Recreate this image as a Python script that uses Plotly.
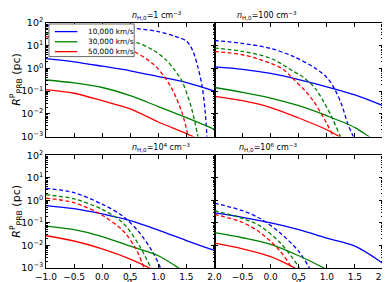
import plotly.graph_objects as go

# ---------------- data (alpha, R in pc) ----------------
speeds = ["10,000 km/s", "30,000 km/s", "50,000 km/s"]
colors = ["#0000ff", "#008000", "#ff0000"]
densities = ["1", "100", "10<sup>4</sup>", "10<sup>6</sup>"]

# n = 1 cm^-3
n1_solid_blue_a = [-1, -0.5, 0, 0.5, 1, 1.5, 1.75, 2]
n1_solid_blue_r = [2.7, 1.95, 1.26, 0.79, 0.44, 0.24, 0.16, 0.10]
n1_solid_green_a = [-1, -0.5, 0, 0.5, 1, 1.5, 2]
n1_solid_green_r = [0.31, 0.23, 0.145, 0.063, 0.021, 0.0068, 0.0021]
n1_solid_red_a = [-1, -0.5, 0, 0.5, 1, 1.5, 1.75]
n1_solid_red_r = [0.117, 0.081, 0.038, 0.0166, 0.0044, 0.00135, 0.0007]
n1_dash_blue_a = [-1, -0.5, 0, 0.5, 1, 1.3, 1.5, 1.6, 1.7, 1.78, 1.83, 1.87]
n1_dash_blue_r = [79, 78, 72, 60, 42, 26, 16, 7.1, 1.26, 0.16, 0.016, 0.00063]
n1_dash_green_a = [-1, -0.5, 0, 0.3, 0.635, 0.9, 1.128, 1.3, 1.42, 1.594, 1.72]
n1_dash_green_r = [36, 33, 26, 21, 13.2, 6.6, 2.5, 0.79, 0.28, 0.0166, 0.00063]
n1_dash_red_a = [-1, -0.5, 0, 0.3, 0.57, 0.8, 0.95, 1.1, 1.245, 1.42, 1.55]
n1_dash_red_r = [25, 22, 16.6, 11.2, 5.6, 2.5, 1.26, 0.45, 0.123, 0.0117, 0.00063]

# n = 100 cm^-3
n2_solid_blue_a = [-1, -0.5, 0, 0.5, 1, 1.5, 2]
n2_solid_blue_r = [1.17, 0.91, 0.60, 0.32, 0.155, 0.068, 0.023]
n2_solid_green_a = [-1, -0.5, 0, 0.5, 1, 1.5, 1.75, 2]
n2_solid_green_r = [0.145, 0.089, 0.05, 0.023, 0.0083, 0.0025, 0.001, 0.0004]
n2_solid_red_a = [-1, -0.5, 0, 0.5, 1, 1.22, 1.4]
n2_solid_red_r = [0.059, 0.038, 0.019, 0.0066, 0.002, 0.001, 0.0005]
n2_dash_blue_a = [-1, -0.5, 0, 0.4, 0.8, 1.0, 1.14, 1.27, 1.38, 1.47, 1.55]
n2_dash_blue_r = [17, 12.6, 7.6, 3.4, 1.0, 0.4, 0.123, 0.023, 0.0032, 0.001, 0.00025]
n2_dash_green_a = [-1, -0.5, 0, 0.4, 0.6, 0.8, 0.95, 1.1, 1.24, 1.35]
n2_dash_green_r = [7.9, 5.6, 2.8, 0.76, 0.38, 0.126, 0.032, 0.0063, 0.001, 0.00025]
n2_dash_red_a = [-1, -0.5, -0.19, 0.2, 0.4, 0.6, 0.75, 0.95, 1.12, 1.25]
n2_dash_red_r = [5.6, 4.0, 2.45, 1.0, 0.35, 0.112, 0.04, 0.0063, 0.001, 0.0003]

# n = 1e4 cm^-3
n3_solid_blue_a = [-1, -0.5, 0, 0.5, 1, 1.5, 2]
n3_solid_blue_r = [0.59, 0.43, 0.25, 0.126, 0.048, 0.0166, 0.006]
n3_solid_green_a = [-1, -0.5, 0, 0.5, 1, 1.36, 1.6]
n3_solid_green_r = [0.072, 0.05, 0.025, 0.0093, 0.0035, 0.001, 0.0004]
n3_solid_red_a = [-1, -0.5, 0, 0.5, 0.84, 1.1]
n3_solid_red_r = [0.027, 0.0158, 0.0071, 0.0025, 0.001, 0.0004]
n3_dash_blue_a = [-1, -0.5, 0, 0.37, 0.66, 0.9, 1.04, 1.15]
n3_dash_blue_r = [3.4, 2.2, 0.68, 0.2, 0.038, 0.0051, 0.001, 0.00025]
n3_dash_green_a = [-1, -0.5, 0, 0.37, 0.66, 0.87, 1.0]
n3_dash_green_r = [1.78, 1.17, 0.4, 0.1, 0.01, 0.001, 0.00025]
n3_dash_red_a = [-1, -0.5, 0, 0.37, 0.6, 0.75, 0.88]
n3_dash_red_r = [1.26, 0.79, 0.22, 0.045, 0.0072, 0.001, 0.00025]

# n = 1e6 cm^-3
n4_solid_blue_a = [-1, -0.5, 0, 0.5, 1, 1.5, 2]
n4_solid_blue_r = [0.28, 0.178, 0.1, 0.05, 0.021, 0.0093, 0.0016]
n4_solid_green_a = [-1, -0.5, 0, 0.5, 0.95, 1.2]
n4_solid_green_r = [0.037, 0.022, 0.0112, 0.0035, 0.001, 0.00045]
n4_solid_red_a = [-1, -0.5, 0, 0.43, 0.7]
n4_solid_red_r = [0.0126, 0.0071, 0.0032, 0.001, 0.0004]
n4_dash_blue_a = [-1, -0.5, -0.19, 0.16, 0.51, 0.69, 0.8]
n4_dash_blue_r = [0.76, 0.35, 0.158, 0.038, 0.0051, 0.001, 0.0003]
n4_dash_green_a = [-1, -0.5, -0.19, 0.16, 0.4, 0.51, 0.62]
n4_dash_green_r = [0.35, 0.158, 0.074, 0.0138, 0.0026, 0.001, 0.0003]
n4_dash_red_a = [-1, -0.5, -0.19, 0.16, 0.38, 0.5]
n4_dash_red_r = [0.24, 0.105, 0.038, 0.006, 0.001, 0.0003]

x_tickvals = [-1.0, -0.5, 0.0, 0.5, 1.0, 1.5, 2.0]
x_ticktext = ["\u22121.0", "\u22120.5", "0.0", "0.5", "1.0", "1.5", "2.0"]
y_tickvals = [1e-3, 1e-2, 1e-1, 1e0, 1e1, 1e2]
y_ticktext = ["10<sup>\u22123</sup>", "10<sup>\u22122</sup>", "10<sup>\u22121</sup>",
              "10<sup>0</sup>", "10<sup>1</sup>", "10<sup>2</sup>"]

panels = [
    [(n1_solid_blue_a, n1_solid_blue_r, n1_dash_blue_a, n1_dash_blue_r),
     (n1_solid_green_a, n1_solid_green_r, n1_dash_green_a, n1_dash_green_r),
     (n1_solid_red_a, n1_solid_red_r, n1_dash_red_a, n1_dash_red_r)],
    [(n2_solid_blue_a, n2_solid_blue_r, n2_dash_blue_a, n2_dash_blue_r),
     (n2_solid_green_a, n2_solid_green_r, n2_dash_green_a, n2_dash_green_r),
     (n2_solid_red_a, n2_solid_red_r, n2_dash_red_a, n2_dash_red_r)],
    [(n3_solid_blue_a, n3_solid_blue_r, n3_dash_blue_a, n3_dash_blue_r),
     (n3_solid_green_a, n3_solid_green_r, n3_dash_green_a, n3_dash_green_r),
     (n3_solid_red_a, n3_solid_red_r, n3_dash_red_a, n3_dash_red_r)],
    [(n4_solid_blue_a, n4_solid_blue_r, n4_dash_blue_a, n4_dash_blue_r),
     (n4_solid_green_a, n4_solid_green_r, n4_dash_green_a, n4_dash_green_r),
     (n4_solid_red_a, n4_solid_red_r, n4_dash_red_a, n4_dash_red_r)],
]

FONT = "DejaVu Sans"
W, H = 390, 282
ML, MR, MT, MB = 38, 8, 13, 21
pw = W - ML - MR
ph = H - MT - MB
x_domains = [[0, 0.5], [0.5, 1.0]]
y_top = [(H - MB - 128) / ph, 1.0]
y_bot = [0.0, (H - MB - 147) / ph]
y_domains = [y_top, y_bot]


def px_x(px):
    return (px - ML) / pw


def px_y(py):
    return (H - MB - py) / ph


fig = go.Figure()
layout = {}
for p in range(4):
    row, col = divmod(p, 2)
    idx = p + 1
    xa = "x" if idx == 1 else f"x{idx}"
    ya = "y" if idx == 1 else f"y{idx}"
    for si, (sa, sr, da, dr) in enumerate(panels[p]):
        fig.add_trace(go.Scatter(
            x=sa, y=sr, mode="lines", xaxis=xa, yaxis=ya,
            line=dict(color=colors[si], width=1.3, shape="spline", smoothing=0.9),
            name=speeds[si], showlegend=False))
        fig.add_trace(go.Scatter(
            x=da, y=dr, mode="lines", xaxis=xa, yaxis=ya,
            line=dict(color=colors[si], width=1.3, dash="4px,2.5px", shape="spline", smoothing=0.9),
            showlegend=False))
    xkey = "xaxis" if idx == 1 else f"xaxis{idx}"
    ykey = "yaxis" if idx == 1 else f"yaxis{idx}"
    if row == 1 and col == 1:
        tv, tt = x_tickvals[1:], x_ticktext[1:]
    else:
        tv, tt = x_tickvals, x_ticktext
    layout[xkey] = dict(
        domain=x_domains[col], range=[-1, 2], anchor=ya,
        tickvals=tv, ticktext=tt, showticklabels=(row == 1),
        ticks="inside", ticklen=4, tickwidth=0.8, tickcolor="black",
        showline=True, linecolor="black", linewidth=0.8, mirror="ticks",
        showgrid=False, zeroline=False,
        tickfont=dict(family=FONT, size=9, color="black"))
    layout[ykey] = dict(
        domain=y_domains[row], type="log", range=[-3, 2], anchor=xa,
        tickvals=y_tickvals, ticktext=y_ticktext, showticklabels=(col == 0),
        ticks="inside", ticklen=4, tickwidth=0.8, tickcolor="black",
        minor=dict(ticks="inside", ticklen=2, tickwidth=0.6, tickcolor="black", dtick="D1", showgrid=False),
        showline=True, linecolor="black", linewidth=0.8, mirror="ticks",
        showgrid=False, zeroline=False,
        tickfont=dict(family=FONT, size=9.5, color="black"))

annotations = []
shapes = []
for p in range(4):
    row, col = divmod(p, 2)
    xc = sum(x_domains[col]) / 2
    ytop = y_domains[row][1]
    annotations.append(dict(
        xref="paper", yref="paper", x=xc, y=ytop, yanchor="bottom", yshift=0,
        showarrow=False,
        text=f"<i>n</i><sub>H,0</sub>={densities[p]} cm<sup>\u22123</sup>",
        font=dict(family=FONT, size=8, color="black")))
for col in range(2):
    annotations.append(dict(
        xref="paper", yref="paper", x=sum(x_domains[col]) / 2, xanchor="center", y=0,
        yanchor="bottom", yshift=-19, showarrow=False, text="<i>\u03b1</i>",
        borderpad=0, font=dict(family=FONT, size=8.5, color="black")))
for row in range(2):
    annotations.append(dict(
        xref="paper", yref="paper", x=0, xanchor="center", xshift=-30,
        y=sum(y_domains[row]) / 2, yanchor="middle", textangle=-90, showarrow=False,
        text="<i>R</i><sup>P</sup><sub>PRB</sub> (pc)",
        font=dict(family=FONT, size=11, color="black")))

# legend box (drawn manually to match compact matplotlib legend)
shapes.append(dict(type="rect", xref="paper", yref="paper",
                   x0=px_x(41), x1=px_x(128), y0=px_y(47), y1=px_y(14),
                   line=dict(color="#444444", width=0.8), fillcolor="white", layer="above"))
leg_rows = [21.7, 32.0, 42.0]
for si in range(3):
    shapes.append(dict(type="line", xref="paper", yref="paper",
                       x0=px_x(47), x1=px_x(70), y0=px_y(leg_rows[si]), y1=px_y(leg_rows[si]),
                       line=dict(color=colors[si], width=1.3), layer="above"))
    annotations.append(dict(xref="paper", yref="paper", x=px_x(79), y=px_y(leg_rows[si]),
                            xanchor="left", yanchor="middle", showarrow=False,
                            text=speeds[si], font=dict(family=FONT, size=7.3, color="black")))

fig.update_layout(
    width=W, height=H,
    margin=dict(l=ML, r=MR, t=MT, b=MB),
    paper_bgcolor="white", plot_bgcolor="white",
    showlegend=False,
    annotations=annotations,
    shapes=shapes,
    **layout)

fig.write_html("out.html")
